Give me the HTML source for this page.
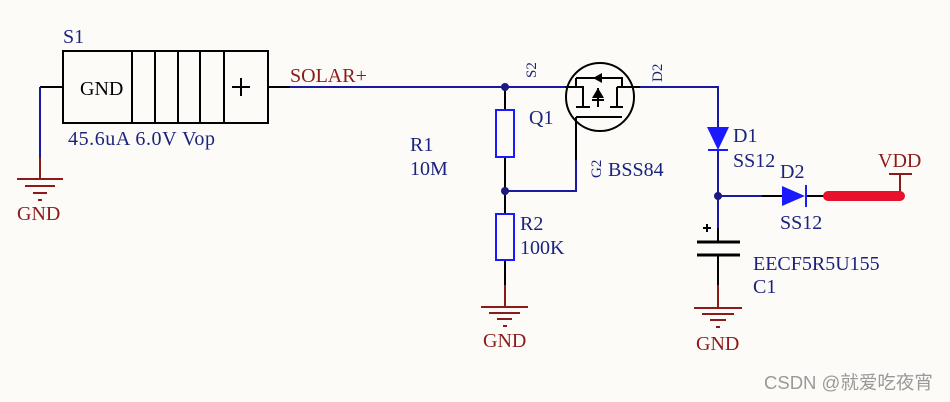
<!DOCTYPE html>
<html><head><meta charset="utf-8"><style>
html,body{margin:0;padding:0;background:#fdfbf7;}
svg{display:block}
text{font-family:"Liberation Serif",serif;font-size:20px;}
.b{fill:#1a237e}.r{fill:#8b1a1a}
</style></head><body>
<svg width="950" height="402" viewBox="0 0 950 402" xmlns="http://www.w3.org/2000/svg">
<rect width="950" height="402" fill="#fdfbf7"/>
<g fill="none" stroke-width="2">
<rect x="63" y="51" width="205" height="72" stroke="#000"/>
<path d="M132 51V123M155 51V123M178 51V123M200 51V123M224 51V123M232 87H250M241 78V96" stroke="#000"/>
<path d="M40 87H63M268 87H290" stroke="#000"/>
<path d="M40 87V158" stroke="#1a1aa0"/>
<path d="M40 158V179M17 179H63M25 186H55M33 193H47M38 200H42" stroke="#8b1a1a"/>
<path d="M290 87H565" stroke="#1a1aa0"/>
<path d="M505 87V110M505 157V214M505 260V285" stroke="#000"/>
<rect x="496" y="110" width="18" height="47" stroke="#1a1aff"/>
<rect x="496" y="214" width="18" height="46" stroke="#1a1aff"/>
<path d="M505 191H576V160" stroke="#1a1aa0"/>
<path d="M576 160V117" stroke="#000"/>
<path d="M505 285V307M481 307H528M489 313H520M497 319H512M503 326H507" stroke="#8b1a1a"/>
<circle cx="600" cy="97" r="34" stroke="#000"/>
<path d="M565 87H583V107M576 107H590M576 78H622V87M598 88V107M617 87V107M610 107H623M617 87H640M576 117H622M576 78V87" stroke="#000"/>
<path d="M640 87H718V127" stroke="#1a1aa0"/>
<path d="M718 150V196M718 196V228" stroke="#1a1aa0"/>
<path d="M708 150H728" stroke="#1a1aff"/>
<path d="M718 228V242M718 255V285" stroke="#000"/>
<path d="M697 242H740M697 255H740" stroke="#000" stroke-width="3"/>
<path d="M703 228H711M707 224V232" stroke="#000"/>
<path d="M718 285V308M694 308H742M702 314H734M710 320H726M716 327H720" stroke="#8b1a1a"/>
<path d="M718 196H762" stroke="#1a1aa0"/>
<path d="M762 196H782M806 196H828" stroke="#000"/>
<path d="M806 185V207" stroke="#1a1aff"/>
<path d="M900 196V174M889 174H912" stroke="#8b1a1a"/>
</g>
<path d="M828 196H900" stroke="#e8102a" stroke-width="10" stroke-linecap="round"/>
<polygon points="593,78 602,73 602,83" fill="#000"/>
<polygon points="598,88 592,98 604,98" fill="#000"/>
<path d="M592 100H604" stroke="#000" stroke-width="2"/>
<polygon points="707,127 729,127 718,150" fill="#1a1aff"/>
<polygon points="782,186 782,206 805,196" fill="#1a1aff"/>
<circle cx="505" cy="87" r="4" fill="#1a1a80"/>
<circle cx="505" cy="191" r="4" fill="#1a1a80"/>
<circle cx="718" cy="196" r="4" fill="#1a1a80"/>
<text x="63" y="43" class="b">S1</text>
<text x="80" y="95" fill="#000">GND</text>
<text x="68" y="145" class="b" textLength="147">45.6uA 6.0V Vop</text>
<text x="17" y="220" class="r">GND</text>
<text x="290" y="82" class="r">SOLAR+</text>
<text x="529" y="124" class="b">Q1</text>
<text x="410" y="151" class="b">R1</text>
<text x="410" y="175" class="b">10M</text>
<text x="520" y="230" class="b">R2</text>
<text x="520" y="254" class="b">100K</text>
<text x="483" y="347" class="r">GND</text>
<text x="608" y="176" class="b">BSS84</text>
<text transform="translate(536,78) rotate(-90)" class="b" style="font-size:15px">S2</text>
<text transform="translate(662,82) rotate(-90)" class="b" style="font-size:15px">D2</text>
<text transform="translate(601,178) rotate(-90)" class="b" style="font-size:15px">G2</text>
<text x="733" y="142" class="b">D1</text>
<text x="733" y="167" class="b">SS12</text>
<text x="780" y="178" class="b">D2</text>
<text x="780" y="229" class="b">SS12</text>
<text x="753" y="270" class="b">EECF5R5U155</text>
<text x="753" y="293" class="b">C1</text>
<text x="878" y="167" class="r">VDD</text>
<text x="696" y="350" class="r">GND</text>
<text x="764" y="389" fill="#999" style="font-family:'Liberation Sans','Noto Sans CJK SC',sans-serif;font-size:18.5px">CSDN @就爱吃夜宵</text>
</svg>
</body></html>
